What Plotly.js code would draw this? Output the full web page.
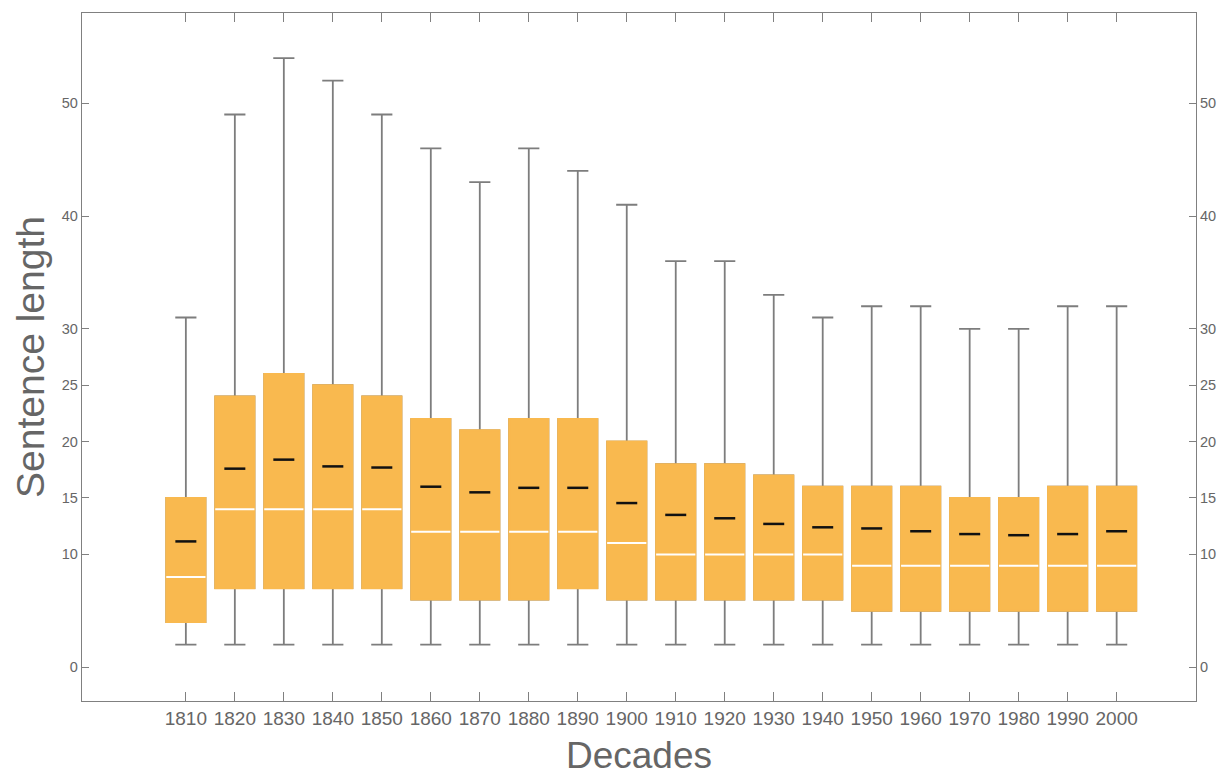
<!DOCTYPE html>
<html>
<head>
<meta charset="utf-8">
<script src="https://cdn.plot.ly/plotly-3.0.1.min.js"></script>
<style>html,body{margin:0;padding:0;background:#fff;}#chart{width:1230px;height:776px;}</style>
</head>
<body>
<div id="chart"></div>
<script>
// Decades (categories)
const decades = ["1810","1820","1830","1840","1850","1860","1870","1880","1890","1900",
                 "1910","1920","1930","1940","1950","1960","1970","1980","1990","2000"];
// Box statistics
const lowerWhisker = [2,2,2,2,2,2,2,2,2,2,2,2,2,2,2,2,2,2,2,2];
const q1Values     = [4,7,7,7,7,6,6,6,7,6,6,6,6,6,5,5,5,5,5,5];
const medianValues = [8,14,14,14,14,12,12,12,12,11,10,10,10,10,9,9,9,9,9,9];
const q3Values     = [15,24,26,25,24,22,21,22,22,20,18,18,17,16,16,16,15,15,16,16];
const upperWhisker = [31,49,54,52,49,46,43,46,44,41,36,36,33,31,32,32,30,30,32,32];
const meanValues   = [11.15,17.6,18.4,17.8,17.7,16.0,15.5,15.9,15.9,14.55,13.5,13.2,12.7,12.4,12.3,12.05,11.8,11.7,11.8,12.05];
// Axis ticks
const yTickVals = [0,10,15,20,25,30,40,50];

const boxColor = "#F9B94F";
const whiskerColor = "#7d7d7d";
const textColor = "#666666";

const traces = [
  { // whiskers (gray)
    type: "box", x: decades,
    q1: q1Values, median: medianValues, q3: q3Values,
    lowerfence: lowerWhisker, upperfence: upperWhisker,
    width: 0.8, whiskerwidth: 0.54,
    line: {color: whiskerColor, width: 1.8},
    fillcolor: boxColor, boxpoints: false,
    hoverinfo: "skip", showlegend: false
  },
  { // box body (orange, covers gray outline)
    type: "box", x: decades,
    q1: q1Values, median: medianValues, q3: q3Values,
    lowerfence: q1Values, upperfence: q3Values,
    width: 0.8, whiskerwidth: 0,
    line: {color: boxColor, width: 2},
    fillcolor: boxColor, boxpoints: false,
    hoverinfo: "skip", showlegend: false
  },
  { // median (white line)
    type: "scatter", mode: "markers", x: decades, y: medianValues,
    marker: {symbol: "line-ew", size: 28, color: "#ffffff", line: {color: "#ffffff", width: 2}},
    hoverinfo: "skip", showlegend: false
  },
  { // mean (black line)
    type: "scatter", mode: "markers", x: decades, y: meanValues,
    marker: {symbol: "line-ew", size: 15, color: "#000000", line: {color: "#111111", width: 2.5}},
    hoverinfo: "skip", showlegend: false
  },
  { // invisible trace to anchor the right axis labels
    type: "scatter", mode: "markers", x: decades, y: medianValues, yaxis: "y2",
    marker: {opacity: 0}, hoverinfo: "skip", showlegend: false
  }
];

const font = {family: "Liberation Sans, Arial, sans-serif", color: textColor};

const layout = {
  width: 1230, height: 776,
  margin: {l: 82, r: 34, t: 13, b: 75},
  paper_bgcolor: "#fff", plot_bgcolor: "#fff",
  font: font,
  boxmode: "overlay",
  showlegend: false,
  xaxis: {
    type: "category",
    range: [-2.12, 20.62],
    showgrid: false, zeroline: false,
    showline: true, linecolor: "#808080", linewidth: 1.3,
    mirror: "ticks",
    ticks: "inside", ticklen: 9, tickcolor: "#808080", tickwidth: 1,
    tickfont: {size: 19, color: textColor},
    title: {text: "Decades", font: {size: 37, color: textColor}, standoff: 17}
  },
  yaxis: {
    range: [-3.0, 58.0],
    tickvals: yTickVals,
    showgrid: false, zeroline: false,
    showline: true, linecolor: "#808080", linewidth: 1.3,
    mirror: "ticks",
    ticks: "inside", ticklen: 7, tickcolor: "#808080", tickwidth: 1,
    tickfont: {size: 14.5, color: textColor},
    title: {text: "Sentence length", font: {size: 39, color: textColor}, standoff: 5}
  },
  yaxis2: {
    overlaying: "y", side: "right",
    range: [-3.0, 58.0],
    tickvals: yTickVals,
    showgrid: false, zeroline: false, showline: false,
    ticks: "", ticklabelstandoff: 3,
    tickfont: {size: 14.5, color: textColor}
  }
};

Plotly.newPlot("chart", traces, layout, {displayModeBar: false, staticPlot: true});
</script>
</body>
</html>
